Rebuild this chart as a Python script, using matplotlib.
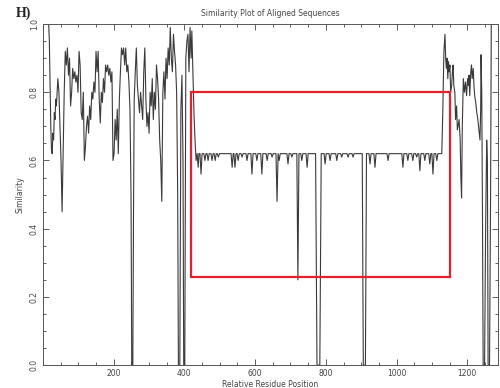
import matplotlib
matplotlib.use("Agg")
import matplotlib.pyplot as plt
from matplotlib.patches import Rectangle
from matplotlib.ticker import MultipleLocator

# residue positions / similarity values
pos_left = [16, 18, 20, 22, 24, 26, 28, 30, 32, 34, 36, 38, 42, 45, 48, 51, 54, 57,
            60, 63, 66, 69, 72, 75, 78, 81, 84, 87, 90, 93, 96, 99, 102, 105, 108,
            111, 114, 117, 120, 123, 126, 129, 132, 135, 138, 141, 144, 147, 150,
            153, 156, 159, 162, 165, 168, 171, 174, 177, 180, 183, 186, 189, 192,
            195, 198, 201, 204, 207, 210, 213, 216, 219, 222, 225, 228, 231, 234,
            237, 240, 243, 246, 249, 251, 254, 256, 258, 261, 264, 267, 270, 273,
            276, 279, 282, 285, 288, 291, 294, 297, 300, 303, 306, 309, 312, 315,
            318, 321, 324, 327, 330, 333, 336, 339, 342, 345, 348, 351, 354, 357,
            360, 363, 366, 369, 372, 375, 378, 381, 383, 387, 390, 393, 396, 398,
            401, 404, 407, 410, 413, 416, 419, 421, 424, 427, 430, 433, 436, 439, 441]
sim_left = [1.0, 0.95, 0.82, 0.7, 0.63, 0.62, 0.68, 0.66, 0.74, 0.72, 0.78, 0.76, 0.84,
            0.8, 0.7, 0.6, 0.45, 0.62, 0.8, 0.92, 0.88, 0.93, 0.85, 0.9, 0.76, 0.8,
            0.87, 0.84, 0.86, 0.83, 0.85, 0.8, 0.92, 0.88, 0.74, 0.72, 0.8, 0.6, 0.64,
            0.7, 0.73, 0.68, 0.76, 0.72, 0.8, 0.78, 0.83, 0.8, 0.92, 0.86, 0.92, 0.78,
            0.71, 0.8, 0.77, 0.84, 0.8, 0.88, 0.86, 0.88, 0.85, 0.87, 0.83, 0.86, 0.6,
            0.62, 0.72, 0.66, 0.75, 0.62, 0.78, 0.86, 0.93, 0.91, 0.93, 0.88, 0.93,
            0.86, 0.88, 0.83, 0.75, 0.5, 0.0, 0.0, 0.45, 0.78, 0.86, 0.93, 0.82, 0.78,
            0.74, 0.8, 0.76, 0.72, 0.86, 0.93, 0.78, 0.7, 0.74, 0.68, 0.8, 0.76, 0.84,
            0.72, 0.8, 0.75, 0.88, 0.84, 0.78, 0.66, 0.6, 0.48, 0.8, 0.86, 0.78, 0.9,
            0.84, 0.93, 0.88, 0.99, 0.9, 0.86, 0.97, 0.92, 0.88, 0.8, 0.5, 0.0, 0.0,
            0.75, 0.85, 0.6, 0.0, 0.0, 0.9, 0.95, 0.97, 0.86, 0.99, 0.9, 0.98, 0.86,
            0.74, 0.66, 0.6, 0.62, 0.58, 0.62]

pos_mid = [444, 447, 450, 455, 458, 461, 464, 467, 470, 475, 478, 481, 484, 487, 490,
           493, 496, 499, 532, 535, 538, 540, 543, 546, 549, 552, 555, 560, 563, 566,
           574, 577, 580, 588, 591, 594, 602, 605, 608, 616, 619, 622, 631, 634, 637,
           645, 648, 651, 659, 662, 665, 668, 671, 690, 693, 696, 701, 704, 707, 718,
           721, 724, 729, 732, 735, 744, 747, 750, 771, 775, 783, 787, 795, 798, 801,
           809, 812, 815, 828, 831, 834, 842, 845, 848, 860, 863, 866, 874, 877, 880,
           903, 906, 912, 915, 922, 925, 928, 936, 939, 942, 973, 976, 979, 1015, 1018,
           1021, 1029, 1032, 1035, 1043, 1046, 1049, 1054, 1057, 1060, 1063, 1066,
           1069, 1077, 1080, 1083, 1091, 1094, 1097, 1100, 1103, 1106, 1111, 1114,
           1117, 1128]
sim_mid = [0.62, 0.56, 0.62, 0.62, 0.6, 0.62, 0.62, 0.6, 0.62, 0.62, 0.6, 0.62, 0.62,
           0.6, 0.62, 0.62, 0.61, 0.62, 0.62, 0.58, 0.62, 0.62, 0.58, 0.62, 0.62, 0.6,
           0.62, 0.62, 0.61, 0.62, 0.62, 0.6, 0.62, 0.62, 0.56, 0.62, 0.62, 0.6, 0.62,
           0.62, 0.56, 0.62, 0.62, 0.6, 0.62, 0.62, 0.61, 0.62, 0.62, 0.48, 0.62, 0.6,
           0.62, 0.62, 0.59, 0.62, 0.62, 0.61, 0.62, 0.62, 0.25, 0.62, 0.62, 0.6, 0.62,
           0.62, 0.58, 0.62, 0.62, 0.0, 0.0, 0.62, 0.62, 0.59, 0.62, 0.62, 0.6, 0.62,
           0.62, 0.6, 0.62, 0.62, 0.61, 0.62, 0.62, 0.61, 0.62, 0.62, 0.61, 0.62, 0.62,
           0.0, 0.0, 0.62, 0.62, 0.59, 0.62, 0.62, 0.58, 0.62, 0.62, 0.6, 0.62, 0.62,
           0.58, 0.62, 0.62, 0.6, 0.62, 0.62, 0.6, 0.62, 0.62, 0.61, 0.62, 0.62, 0.57,
           0.62, 0.62, 0.6, 0.62, 0.62, 0.59, 0.62, 0.62, 0.56, 0.62, 0.62, 0.6, 0.62,
           0.62]

pos_right = [1131, 1134, 1137, 1139, 1141, 1143, 1145, 1147, 1149, 1151, 1153, 1156,
             1158, 1160, 1162, 1165, 1167, 1170, 1172, 1174, 1177, 1180, 1182, 1184,
             1186, 1189, 1192, 1195, 1198, 1201, 1203, 1205, 1207, 1210, 1212, 1214,
             1217, 1219, 1221, 1224, 1227, 1230, 1233, 1236, 1238, 1239, 1241, 1243,
             1245, 1249, 1252, 1255, 1257, 1259, 1263, 1266, 1268, 1272]
sim_right = [0.75, 0.92, 0.97, 0.9, 0.87, 0.9, 0.84, 0.89, 0.86, 0.88, 0.8, 0.82, 0.86,
             0.88, 0.82, 0.8, 0.72, 0.76, 0.69, 0.7, 0.72, 0.66, 0.55, 0.49, 0.7, 0.84,
             0.8, 0.83, 0.79, 0.84, 0.82, 0.85, 0.79, 0.86, 0.88, 0.84, 0.87, 0.82, 0.79,
             0.77, 0.74, 0.72, 0.69, 0.66, 0.75, 0.91, 0.8, 0.46, 0.0, 0.0, 0.4, 0.66,
             0.6, 0.0, 0.0, 0.5, 1.0, 1.0]

# highlighted window: x from / to, y from / to
box_x = (418, 1151)
box_y = (0.258, 0.80)

positions = pos_left + pos_mid + pos_right
similarity = sim_left + sim_mid + sim_right

fig = plt.figure(figsize=(5, 3.88), dpi=100)
ax = fig.add_axes([0.086, 0.059, 0.91, 0.879])

ax.plot(positions, similarity, color="#3a3a3a", lw=0.8)
ax.add_patch(Rectangle((box_x[0], box_y[0]), box_x[1] - box_x[0], box_y[1] - box_y[0],
                       fill=False, edgecolor="#e8202a", lw=1.6, zorder=3))

ax.set_xlim(0, 1287)
ax.set_ylim(0, 1.0)
ax.xaxis.set_major_locator(MultipleLocator(200))
ax.xaxis.set_minor_locator(MultipleLocator(50))
ax.yaxis.set_major_locator(MultipleLocator(0.2))
ax.yaxis.set_minor_locator(MultipleLocator(0.05))
ax.set_xticks([200, 400, 600, 800, 1000, 1200])
ax.tick_params(which="both", direction="in", top=True, right=True,
               labelsize=5.5, colors="#444444", width=0.6, pad=3)
ax.tick_params(which="major", length=4.5)
ax.tick_params(which="minor", length=2.5)
ax.set_yticks([0.0, 0.2, 0.4, 0.6, 0.8, 1.0])
ax.set_yticklabels(["0.0", "0.2", "0.4", "0.6", "0.8", "1.0"], rotation=90, va="center")
for s in ax.spines.values():
    s.set_color("#555555")
    s.set_linewidth(0.7)

ax.set_xlabel("Relative Residue Position", fontsize=5.5, color="#444444", labelpad=1)
ax.set_ylabel("Similarity", fontsize=5.5, color="#444444", labelpad=4)
ax.set_title("Similarity Plot of Aligned Sequences", fontsize=5.5, color="#444444", pad=6)
fig.text(0.032, 0.965, "H)", family="Liberation Serif", fontweight="bold",
         fontsize=10, va="center", ha="left", color="#222222")

fig.savefig("out.png", dpi=100)
